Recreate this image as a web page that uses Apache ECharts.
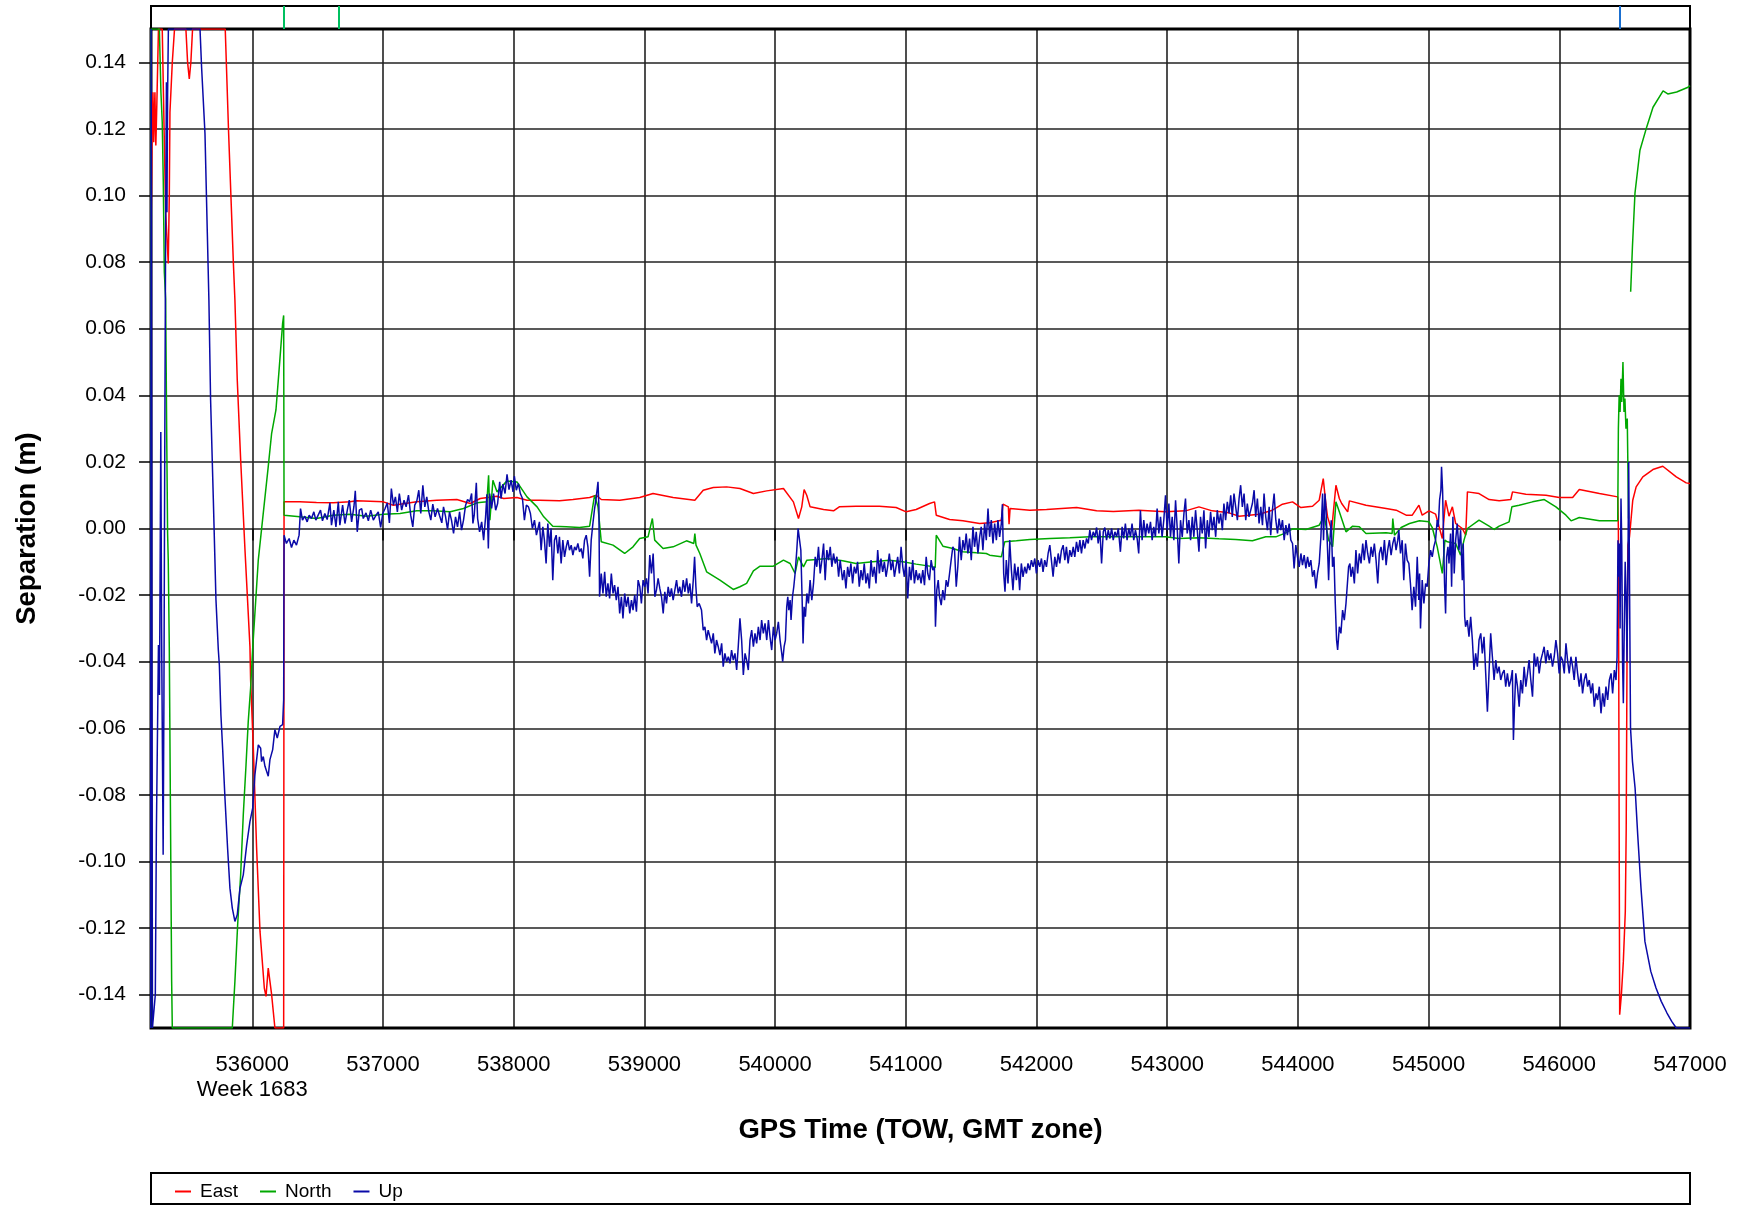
<!DOCTYPE html>
<html><head><meta charset="utf-8">
<script src="https://cdn.jsdelivr.net/npm/echarts@6/dist/echarts.min.js"></script>
<style>html,body{margin:0;padding:0;background:#fff}#c{width:1743px;height:1206px}</style>
</head><body><div id="c"></div>
<script>
const xTicks = [536000,537000,538000,539000,540000,541000,542000,543000,544000,545000,546000,547000];
const yTicks = [-0.14,-0.12,-0.10,-0.08,-0.06,-0.04,-0.02,0,0.02,0.04,0.06,0.08,0.10,0.12,0.14];
const weekLabel = 'Week 1683';
const seriesNames = ['East','North','Up'];
const xTitle = 'GPS Time (TOW, GMT zone)';
const yTitle = 'Separation (m)';
const stripGreen = [536242, 536663];
const stripBlue = [546462];

const eastPoints = [[535226,0.091],[535233,0.118],[535240,0.131],[535246,0.116],[535255,0.131],[535262,0.115],[535270,0.128],[535282,0.15],[535311,0.15],[535337,0.095],[535357,0.0796],[535365,0.10],[535370,0.125],[535388,0.14],[535405,0.15],[535492,0.15],[535505,0.14],[535518,0.135],[535530,0.14],[535543,0.15],[535793,0.15],[535819,0.1186],[535855,0.08],[535867,0.0686],[535885,0.0446],[535911,0.0206],[535944,-0.0064],[535982,-0.0354],[535987,-0.0454],[536008,-0.066],[536033,-0.096],[536059,-0.121],[536092,-0.138],[536105,-0.1405],[536122,-0.132],[536135,-0.136],[536148,-0.14],[536173,-0.15],[536240,-0.15],[536243,0.008],[536363,0.008],[536491,0.0078],[536619,0.0077],[536747,0.008],[536798,0.0083],[537003,0.008],[537079,0.007],[537258,0.008],[537412,0.0085],[537565,0.0087],[537667,0.0075],[537744,0.009],[537872,0.0097],[537923,0.009],[538025,0.0093],[538102,0.0085],[538197,0.0085],[538351,0.0083],[538453,0.0087],[538581,0.0093],[538632,0.01],[538670,0.0087],[538811,0.0085],[538964,0.0093],[539066,0.0105],[539220,0.0093],[539386,0.0085],[539450,0.0115],[539527,0.0123],[539629,0.0125],[539731,0.012],[539834,0.0105],[539936,0.0113],[540064,0.012],[540140,0.008],[540179,0.003],[540204,0.0065],[540222,0.0117],[540242,0.01],[540268,0.0065],[540371,0.0057],[540447,0.0053],[540491,0.0065],[540619,0.0067],[540798,0.0067],[540926,0.0063],[541003,0.005],[541079,0.0057],[541182,0.0075],[541220,0.008],[541233,0.004],[541335,0.0027],[541437,0.0023],[541565,0.0015],[541642,0.0017],[541731,0.0025],[541744,0.0073],[541785,0.0065],[541790,0.0013],[541798,0.006],[541949,0.0055],[542077,0.0057],[542307,0.0063],[542460,0.0053],[542588,0.0051],[542783,0.0055],[542987,0.005],[543141,0.0053],[543243,0.0065],[543345,0.0053],[543473,0.0047],[543550,0.0037],[543703,0.0043],[543805,0.0055],[543882,0.0073],[543959,0.008],[544023,0.0063],[544112,0.0067],[544163,0.0085],[544194,0.015],[544215,0.007],[544227,0.0035],[544258,-0.0005],[544291,0.013],[544317,0.009],[544335,0.0075],[544381,0.005],[544394,0.0083],[544521,0.007],[544675,0.006],[544752,0.0055],[544828,0.004],[544875,0.004],[544926,0.007],[544951,0.004],[545003,0.0053],[545054,0.0043],[545105,-0.003],[545130,0.0085],[545156,0.0037],[545182,0.0065],[545207,0.0015],[545258,0],[545284,-0.002],[545297,0.011],[545386,0.0105],[545463,0.0087],[545540,0.0083],[545629,0.0087],[545642,0.011],[545744,0.0103],[545898,0.01],[546000,0.0093],[546102,0.0093],[546153,0.0117],[546307,0.0105],[546447,0.0095],[546452,0],[546458,-0.09],[546462,-0.146],[546475,-0.14],[546490,-0.13],[546505,-0.115],[546512,-0.09],[546518,-0.04],[546525,-0.005],[546537,-0.0025],[546562,0.0085],[546588,0.0125],[546639,0.0155],[546716,0.0177],[546792,0.0187],[546895,0.0155],[546971,0.0137],[547000,0.0135]];

const northPoints = [[535222,-0.15],[535225,0.15],[535289,0.15],[535301,0.131],[535311,0.122],[535319,0.104],[535327,0.077],[535337,0.069],[535345,0.029],[535352,-0.0014],[535357,-0.0094],[535365,-0.036],[535383,-0.136],[535388,-0.15],[535847,-0.15],[535867,-0.136],[535888,-0.119],[535911,-0.104],[535931,-0.086],[535952,-0.071],[535969,-0.058],[535987,-0.048],[536003,-0.036],[536046,-0.0094],[536084,0.0046],[536122,0.0186],[536148,0.0286],[536181,0.0356],[536207,0.0486],[536232,0.0616],[536240,0.064],[536243,0.004],[536363,0.0035],[536491,0.003],[536619,0.004],[536747,0.0043],[536875,0.0037],[537003,0.0043],[537130,0.0045],[537258,0.0053],[537386,0.0053],[537514,0.005],[537616,0.006],[537719,0.0077],[537795,0.008],[537808,0.016],[537818,0.0025],[537826,0.0025],[537841,0.0145],[537872,0.011],[537949,0.0143],[538025,0.014],[538102,0.0095],[538179,0.0065],[538230,0.0035],[538299,0.0007],[538402,0.0005],[538504,0.0003],[538581,0.0007],[538619,0.01],[538645,0.0065],[538670,-0.004],[538760,-0.005],[538849,-0.0075],[538913,-0.0055],[538964,-0.003],[539028,-0.0025],[539061,0.003],[539079,-0.0035],[539143,-0.006],[539220,-0.0055],[539322,-0.0037],[539378,-0.0045],[539386,-0.0015],[539395,-0.005],[539424,-0.0075],[539476,-0.013],[539578,-0.0155],[539680,-0.0183],[539731,-0.0175],[539782,-0.0165],[539834,-0.0127],[539885,-0.0113],[539987,-0.0113],[540064,-0.0095],[540115,-0.0105],[540153,-0.0135],[540179,-0.0085],[540217,-0.0115],[540243,-0.0095],[540319,-0.0093],[540396,-0.009],[540517,-0.0097],[540619,-0.0105],[540747,-0.01],[540875,-0.0095],[540977,-0.01],[541079,-0.0107],[541182,-0.0113],[541225,-0.0117],[541233,-0.002],[541284,-0.0053],[541361,-0.006],[541437,-0.007],[541540,-0.0073],[541616,-0.0075],[541642,-0.008],[541731,-0.0085],[541757,-0.004],[541846,-0.0037],[541949,-0.0033],[542102,-0.003],[542255,-0.0028],[542409,-0.0025],[542562,-0.0025],[542783,-0.0025],[542987,-0.0025],[543089,-0.003],[543243,-0.0028],[543396,-0.0031],[543524,-0.0033],[543652,-0.0037],[543754,-0.0025],[543831,-0.0025],[543908,-0.0013],[543959,-0.0001],[544061,-0.0003],[544163,0.001],[544202,0.0037],[544235,-0.0035],[544266,-0.0055],[544291,0.008],[544317,0.005],[544368,-0.001],[544419,0.0007],[544470,0.0005],[544521,-0.0015],[544675,-0.0013],[544721,-0.0015],[544726,0.003],[544739,-0.002],[544790,0.0003],[544854,0.0015],[544930,0.0023],[545003,0.002],[545028,0.0003],[545066,-0.0055],[545105,-0.0135],[545125,-0.0035],[545143,-0.004],[545207,-0.0045],[545245,-0.008],[545271,-0.0035],[545297,0],[545386,0.0025],[545463,0.0007],[545501,-0.0003],[545540,0.0007],[545616,0.002],[545637,0.0065],[545693,0.007],[545795,0.008],[545885,0.0087],[545974,0.0065],[546051,0.004],[546090,0.0023],[546153,0.0033],[546307,0.0023],[546447,0.0023],[546452,0.03],[546458,0.04],[546465,0.035],[546472,0.045],[546478,0.038],[546487,0.05],[546495,0.035],[546502,0.039],[546510,0.03],[546520,0.033],[546530,0.003],[546533,null],[546546,0.0711],[546560,0.085],[546579,0.1007],[546617,0.1136],[546669,0.1206],[546717,0.1265],[546794,0.1314],[546830,0.1305],[546898,0.1311],[546985,0.1325],[547000,0.133]];

const upPoints = [[535222,-0.15],[535226,0.15],[535230,0.03],[535236,-0.15],[535250,-0.15],[535258,-0.14],[535266,-0.092],[535275,-0.06],[535282,-0.035],[535290,-0.05],[535300,0.029],[535306,-0.03],[535313,-0.07],[535318,-0.098],[535324,-0.05],[535330,0.02],[535337,0.09],[535343,0.134],[535347,0.095],[535352,0.13],[535358,0.15],[535600,0.15],[535612,0.1386],[535638,0.1186],[535656,0.0886],[535668,0.0686],[535681,0.0386],[535702,0.0086],[535722,-0.0214],[535740,-0.0364],[535748,-0.041],[535760,-0.056],[535773,-0.066],[535791,-0.081],[535811,-0.096],[535829,-0.108],[535847,-0.114],[535867,-0.118],[535885,-0.116],[535906,-0.108],[535931,-0.104],[535957,-0.095],[535982,-0.088],[536003,-0.084],[536020,-0.074],[536046,-0.065],[536064,-0.066],[536071,-0.07],[536084,-0.0685],[536097,-0.0714],[536110,-0.072],[536122,-0.0744],[536135,-0.0694],[536156,-0.0664],[536173,-0.0604],[536191,-0.0629],[536212,-0.0594],[536232,-0.0589],[536240,-0.0514],
[536243,-0.002],[536261,-0.0045],[536282,-0.003],[536300,-0.0057],[536318,-0.0035],[536338,-0.005],[536358,-0.002],[536369,0.006],[536384,0.0025],[536402,0.0037],[536420,0.002],[536435,0.004],[536453,0.003],[536471,0.005],[536486,0.0025],[536504,0.004],[536522,0.0055],[536537,0.0023],[536555,0.0045],[536573,0.0027],[536594,0.0077],[536606,0.001],[536624,0.0055],[536640,0.0005],[536658,0.008],[536670,0.001],[536691,0.007],[536709,0.0015],[536727,0.0055],[536742,0.0085],[536760,0.002],[536778,0.0067],[536788,0.0113],[536803,-0.001],[536819,0.0055],[536837,0.006],[536849,0.003],[536870,0.0047],[536888,0.0023],[536906,0.0055],[536926,0.0025],[536947,0.004],[536964,0.005],[536982,0.0003],[536998,0.0045],[537016,0.006],[537033,0.0077],[537049,0.0017],[537064,0.012],[537080,0.007],[537095,0.0095],[537110,0.005],[537125,0.0105],[537143,0.0055],[537161,0.0085],[537177,0.0065],[537195,0.01],[537212,0.004],[537228,0.0005],[537243,0.007],[537259,0.0083],[537274,0.0115],[537289,0.0045],[537305,0.013],[537320,0.0065],[537335,0.0095],[537351,0.005],[537366,0.0025],[537381,0.0073],[537399,0.0035],[537417,0.006],[537432,0.004],[537450,0.0017],[537463,0.0065],[537478,0.0037],[537494,-0.0003],[537509,0.005],[537524,0.0025],[537540,-0.0015],[537555,0.0035],[537570,0.0005],[537586,0.005],[537601,-0.0005],[537616,0.0025],[537632,0.007],[537647,0.0087],[537663,0.008],[537678,0.0105],[537688,0.0015],[537698,0.004],[537714,0.0137],[537724,0.003],[537739,-0.001],[537755,0.002],[537770,-0.0035],[537785,0.0035],[537795,0.0103],[537806,-0.006],[537816,0.0105],[537831,0.006],[537846,0.0105],[537862,0.0055],[537877,0.0075],[537893,0.014],[537903,0.009],[537918,0.0133],[537934,0.0105],[537949,0.0163],[537964,0.0117],[537980,0.0145],[537995,0.011],[538005,0.0157],[538020,0.0115],[538036,0.0135],[538051,0.0105],[538067,0.009],[538082,0.0025],[538097,0.007],[538113,0.0065],[538128,0.0045],[538143,0],[538159,0.0025],[538174,-0.002],
[538197,0.002],[538210,-0.0065],[538223,0.0005],[538235,-0.0035],[538248,-0.0105],[538261,0.0015],[538274,-0.0055],[538286,0],[538299,-0.0155],[538312,-0.0035],[538325,-0.002],[538338,-0.0075],[538350,-0.0025],[538363,-0.0105],[538376,-0.0035],[538389,-0.0085],[538402,-0.0055],[538414,-0.0035],[538427,-0.0065],[538440,-0.005],[538453,-0.008],[538466,-0.0055],[538478,-0.0065],[538491,-0.0045],[538504,-0.007],[538517,-0.006],[538529,-0.009],[538542,-0.0035],[538555,-0.002],[538568,-0.0055],[538581,-0.0145],[538593,-0.0035],[538606,0.0015],[538619,0.006],[538632,0.0095],[538645,0.014],[538652,0.0065],[538657,-0.0205],[538670,-0.0135],[538683,-0.0195],[538696,-0.013],[538708,-0.0205],[538721,-0.0165],[538734,-0.021],[538747,-0.0135],[538760,-0.0195],[538772,-0.017],[538785,-0.0215],[538798,-0.0175],[538811,-0.0255],[538824,-0.0205],[538836,-0.027],[538849,-0.0195],[538862,-0.0235],[538875,-0.0205],[538888,-0.0255],[538901,-0.0215],[538913,-0.0245],[538926,-0.02],[538939,-0.025],[538952,-0.0155],[538965,-0.0175],[538977,-0.0225],[538990,-0.0155],[539003,-0.0175],[539016,-0.015],[539028,-0.0195],[539041,-0.008],[539054,-0.0135],[539067,-0.0075],[539080,-0.0205],[539092,-0.0185],[539105,-0.015],[539118,-0.018],[539131,-0.0205],[539144,-0.0255],[539156,-0.019],[539169,-0.0225],[539182,-0.0175],[539195,-0.0205],[539207,-0.018],[539220,-0.0215],[539233,-0.0185],[539246,-0.0155],[539259,-0.0195],[539271,-0.0175],[539284,-0.0205],[539297,-0.0155],[539310,-0.019],[539323,-0.015],[539336,-0.0195],[539348,-0.0165],[539361,-0.0225],[539374,-0.0155],[539384,-0.0085],[539394,-0.0175],[539404,-0.0235],[539419,-0.0225],[539437,-0.0245],[539450,-0.0305],[539463,-0.0295],[539476,-0.0335],[539488,-0.0305],[539501,-0.0325],[539514,-0.0345],[539527,-0.0315],[539539,-0.0375],[539552,-0.0335],[539565,-0.0355],[539578,-0.038],[539591,-0.0345],[539603,-0.0415],[539616,-0.0375],[539629,-0.04],[539642,-0.0385],[539655,-0.0405],[539667,-0.0365],[539680,-0.0395],[539693,-0.0375],[539706,-0.0425],[539718,-0.0355],[539731,-0.027],[539744,-0.0335],[539757,-0.044],[539770,-0.0375],[539782,-0.0395],[539795,-0.0425],[539808,-0.0335],[539821,-0.0305],[539834,-0.0355],[539846,-0.0315],[539859,-0.0345],[539872,-0.0295],[539885,-0.0335],[539897,-0.0275],[539910,-0.0315],[539923,-0.0285],[539936,-0.0335],[539949,-0.0275],[539961,-0.0325],[539974,-0.0365],[539987,-0.0295],[540000,-0.0335],[540012,-0.0315],[540025,-0.028],[540038,-0.0335],[540051,-0.0375],[540058,-0.04],[540069,-0.0355],[540079,-0.0335],[540089,-0.0235],[540097,-0.0205],[540105,-0.0245],[540115,-0.0215],[540122,-0.0275],[540133,-0.0205],[540143,-0.0175],[540153,-0.0135],[540166,-0.0065],[540176,0],[540186,-0.0005],[540197,-0.0065],[540207,-0.0215],[540214,-0.0345],[540222,-0.0235],[540232,-0.0265],[540243,-0.0195],[540255,-0.0225],[540268,-0.0155],[540281,-0.0215],[540294,-0.0165],[540307,-0.0085],[540319,-0.0115],[540332,-0.0055],[540345,-0.0135],[540358,-0.0095],[540371,-0.0045],[540383,-0.0155],[540396,-0.0065],[540409,-0.0095],[540422,-0.0055],[540434,-0.0115],[540447,-0.0075],[540460,-0.0105],[540473,-0.0085],[540486,-0.0145],[540498,-0.0095],
[540516,-0.0155],[540529,-0.0125],[540542,-0.018],[540555,-0.0115],[540567,-0.0145],[540580,-0.0105],[540593,-0.0165],[540606,-0.0115],[540619,-0.0135],[540631,-0.01],[540644,-0.0175],[540657,-0.0125],[540670,-0.0155],[540682,-0.0105],[540695,-0.0165],[540708,-0.0135],[540721,-0.018],[540734,-0.0095],[540746,-0.0145],[540759,-0.0115],[540772,-0.0165],[540785,-0.0065],[540798,-0.0135],[540810,-0.009],[540823,-0.013],[540836,-0.01],[540849,-0.0145],[540861,-0.0115],[540874,-0.0075],[540887,-0.0125],[540900,-0.0095],[540913,-0.0145],[540925,-0.0115],[540938,-0.0085],[540951,-0.0135],[540964,-0.0055],[540977,-0.0115],[540989,-0.0145],[541002,-0.0095],[541015,-0.021],[541028,-0.0115],[541040,-0.0155],[541053,-0.0095],[541066,-0.0165],[541079,-0.0125],[541092,-0.0155],[541104,-0.0135],[541117,-0.0165],[541130,-0.0125],[541143,-0.017],[541156,-0.0085],[541168,-0.0135],[541181,-0.0155],[541194,-0.0095],[541207,-0.0125],[541219,-0.0115],[541227,-0.0295],[541237,-0.0185],[541248,-0.0155],[541258,-0.0205],[541271,-0.023],[541283,-0.0185],[541296,-0.0215],[541309,-0.0155],[541322,-0.0175],[541335,-0.0135],[541347,-0.0095],[541360,-0.0055],[541373,-0.0065],[541386,-0.0175],[541398,-0.0115],[541411,-0.0025],[541424,-0.0095],[541437,-0.0035],[541450,-0.0065],[541462,-0.0015],[541475,-0.0075],[541488,-0.003],[541501,-0.0095],[541514,0.0005],[541526,-0.0055],[541539,-0.001],[541552,-0.0075],[541565,-0.0025],[541577,0.0005],[541590,-0.0065],[541603,0.0015],[541616,-0.0035],[541629,0.006],[541641,-0.0025],[541654,0.0025],[541667,-0.0045],[541680,0.0015],[541693,-0.0035],[541705,0.0025],[541718,-0.0025],[541731,0.0015],[541739,0.0073],[541749,-0.0135],[541759,-0.019],[541769,-0.0095],[541782,-0.0165],[541795,-0.0035],[541808,-0.0125],[541820,-0.0185],[541833,-0.0105],[541846,-0.0155],[541859,-0.0115],[541871,-0.0185],[541884,-0.0105],[541897,-0.0145],[541910,-0.0115],[541923,-0.0135],[541935,-0.0105],[541948,-0.0125],[541961,-0.0095],[541974,-0.0115],[541987,-0.009],[541999,-0.0135],[542012,-0.0095],[542025,-0.0115],[542038,-0.009],[542050,-0.013],[542063,-0.0095],[542076,-0.0115],[542089,-0.0075],[542102,-0.005],[542114,-0.0095],[542127,-0.0145],[542140,-0.0085],[542153,-0.0115],[542166,-0.0075],[542178,-0.0105],[542191,-0.0065],[542204,-0.005],[542217,-0.0095],[542229,-0.0055],[542242,-0.0105],[542255,-0.0065],[542268,-0.0085],[542281,-0.0055],[542293,-0.0085],[542306,-0.004],[542319,-0.007],[542332,-0.0035],[542344,-0.0075],[542357,-0.0035],[542370,-0.006],[542383,-0.003],[542396,-0.0045],[542408,-0.0005],[542421,-0.0035],[542434,-0.001],[542447,-0.0025],[542460,0.0003],[542472,-0.0045],[542485,-0.0005],[542498,-0.0105],[542511,-0.001],[542523,0.0003],[542536,-0.0035],[542549,-0.0005],[542562,-0.003],[542575,0],[542587,-0.0035],[542600,-0.001],[542613,-0.0025],[542626,0],
[542642,-0.007],[542655,0.0005],[542667,-0.003],[542680,0.0015],[542693,-0.0035],[542706,0],[542719,-0.0025],[542731,0.0015],[542744,-0.0035],[542757,-0.0005],[542770,-0.003],[542782,-0.0075],[542795,0.0055],[542808,-0.0035],[542821,0.0025],[542834,-0.0025],[542846,0.0015],[542859,-0.0015],[542872,0.002],[542885,-0.0035],[542897,0.0005],[542910,-0.0025],[542923,0.006],[542936,-0.0015],[542949,0.0035],[542961,-0.0025],[542974,0.0025],[542987,0.01],[543000,-0.0005],[543013,0.0075],[543025,-0.0025],[543038,0.0035],[543051,-0.0035],[543064,0.0085],[543076,0.0005],[543089,-0.0105],[543102,0.0025],[543115,-0.0025],[543128,0.0045],[543140,0.009],[543153,-0.0015],[543166,0.0025],[543179,-0.0035],[543192,0.0035],[543204,-0.0025],[543217,0.0055],[543230,-0.0005],[543243,-0.007],[543255,0.0035],[543268,-0.0015],[543281,0.0055],[543294,-0.006],[543307,0.0025],[543319,-0.0025],[543332,0.005],[543345,-0.0005],[543358,0.0035],[543371,-0.0025],[543383,0.0055],[543396,0.0015],[543409,0.0045],[543422,-0.0005],[543434,0.0075],[543447,0.0025],[543460,0.008],[543473,0.0045],[543486,0.01],[543498,0.0035],[543511,0.0105],[543524,0.0065],[543537,0.0025],[543550,0.009],[543562,0.013],[543575,0.0065],[543588,0.0105],[543601,0.0025],[543613,0.0075],[543626,0.0035],[543639,0.0055],[543652,0.0075],[543665,0.0115],[543677,0.0035],[543690,0.009],[543703,0.0015],[543716,0.0065],[543729,0.001],[543741,0.0105],[543754,0.0035],[543767,-0.0005],[543780,0.0065],[543792,-0.002],[543805,0.0055],[543818,0.0105],[543831,0.0025],[543844,-0.0015],[543856,0.003],[543869,-0.0005],[543882,0.0025],[543895,-0.0035],[543908,0.001],[543920,-0.002],[543933,0.0015],[543946,-0.0035],[543959,-0.0045],[543971,-0.012],[543984,-0.005],[543997,-0.0085],[544010,-0.0115],[544023,-0.0075],[544035,-0.011],[544048,-0.008],[544061,-0.012],[544074,-0.0085],[544086,-0.0115],[544099,-0.0095],[544112,-0.0145],[544125,-0.0125],[544138,-0.018],[544150,-0.0135],[544163,-0.0105],[544176,-0.0025],[544189,0.0105],[544196,-0.0035],[544207,0.0105],[544214,0.0065],[544227,-0.0065],[544235,-0.0155],[544245,-0.0035],[544255,0.0025],[544265,-0.0115],[544276,-0.0085],[544286,-0.0225],[544296,-0.0335],[544304,-0.0365],[544317,-0.0295],[544329,-0.0315],[544342,-0.0245],[544355,-0.0275],[544368,-0.0225],[544381,-0.023],[544388,-0.0115],[544398,-0.0105],[544406,-0.0145],[544419,-0.0115],[544432,-0.0165],[544444,-0.0065],[544457,-0.0135],[544470,-0.0075],[544483,-0.0105],[544496,-0.0045],[544508,-0.0095],[544521,-0.0035],[544534,-0.0075],[544547,-0.0105],[544560,-0.0055],[544572,-0.0085],[544585,-0.0045],[544598,-0.0095],[544611,-0.0165],[544623,-0.0075],[544636,-0.0055],[544649,-0.0095],[544662,-0.0035],[544675,-0.011],[544687,-0.0065],[544700,-0.0035],[544713,-0.008],[544726,-0.0045],[544739,-0.0025],[544751,-0.0065],[544764,-0.0035],
[544772,-0.0005],[544785,-0.0075],[544798,-0.0035],[544810,-0.0155],[544823,-0.0045],[544836,-0.0095],[544849,-0.0105],[544861,-0.0165],[544874,-0.0245],[544887,-0.0175],[544900,-0.0235],[544913,-0.0085],[544925,-0.0215],[544931,-0.0135],[544938,-0.03],[544951,-0.0155],[544964,-0.0225],[544977,-0.0165],[544989,-0.0175],[545002,-0.0105],[545015,-0.0065],[545028,-0.0085],[545040,-0.0055],[545053,-0.0035],[545066,0.0025],[545074,0.0005],[545084,0.0085],[545094,0.0115],[545099,0.0185],[545107,0.0115],[545115,-0.0035],[545122,-0.0165],[545130,-0.0255],[545138,-0.0085],[545148,-0.0055],[545156,-0.0105],[545168,-0.0015],[545176,-0.0175],[545186,0.0035],[545196,-0.0135],[545207,-0.0035],[545219,0.0015],[545232,-0.0065],[545245,-0.0005],[545258,-0.0155],[545265,-0.0045],[545276,-0.0265],[545283,-0.0295],[545296,-0.0275],[545309,-0.0325],[545322,-0.0265],[545335,-0.0335],[545347,-0.0425],[545360,-0.0375],[545373,-0.0415],[545386,-0.0335],[545399,-0.0315],[545411,-0.0375],[545424,-0.0325],[545437,-0.0435],[545450,-0.055],[545462,-0.0435],[545475,-0.0315],[545488,-0.0385],[545501,-0.0455],[545514,-0.0395],[545526,-0.0435],[545539,-0.0415],[545552,-0.0455],[545565,-0.0435],[545578,-0.0425],[545590,-0.0475],[545603,-0.0435],[545616,-0.0475],[545629,-0.0455],[545641,-0.0425],[545649,-0.0635],[545659,-0.0515],[545667,-0.0435],[545680,-0.0475],[545693,-0.0535],[545705,-0.0455],[545718,-0.0495],[545731,-0.0415],[545744,-0.0475],[545757,-0.0435],[545769,-0.0395],[545782,-0.0455],[545795,-0.0505],[545808,-0.0375],[545821,-0.0415],[545833,-0.0385],[545846,-0.0435],[545859,-0.0395],[545872,-0.0375],[545884,-0.0355],[545897,-0.0405],[545910,-0.0365],[545923,-0.0395],[545935,-0.0375],[545948,-0.0415],[545961,-0.0385],[545974,-0.0335],[545987,-0.0375],[545999,-0.0435],[546012,-0.0385],[546025,-0.0395],[546038,-0.0435],[546051,-0.0345],[546063,-0.0395],[546076,-0.0435],[546089,-0.0385],[546102,-0.0415],[546114,-0.0455],[546127,-0.0385],[546140,-0.0435],[546153,-0.0475],[546166,-0.0435],[546178,-0.0495],[546191,-0.0455],[546204,-0.0435],[546217,-0.0475],[546229,-0.0455],[546242,-0.0495],[546255,-0.0465],[546268,-0.0535],[546281,-0.0495],[546293,-0.0515],[546306,-0.0475],[546319,-0.0555],[546332,-0.0495],[546345,-0.0535],[546357,-0.0475],[546370,-0.0515],[546383,-0.0455],[546396,-0.0435],[546408,-0.0495],[546421,-0.0425],[546434,-0.0455],
[546442,-0.0385],[546449,-0.0035],[546454,-0.0145],[546460,-0.0045],[546465,-0.03],[546472,0.009],[546478,-0.005],[546484,-0.04],[546490,-0.0525],[546497,-0.03],[546504,-0.01],[546511,-0.0195],[546518,-0.04],[546526,-0.0065],[546531,0.02],[546538,-0.02],[546545,-0.06],[546560,-0.07],[546580,-0.078],[546600,-0.092],[546625,-0.108],[546655,-0.124],[546700,-0.133],[546740,-0.138],[546780,-0.142],[546824,-0.1455],[546860,-0.148],[546895,-0.15],[547000,-0.15]];

const FONT = '"Liberation Sans", Arial, Helvetica, sans-serif';
const toSeriesData = pts => pts.map(p => [p[0], p[1] === null ? '-' : p[1]]);

const chart = echarts.init(document.getElementById('c'), null, {renderer: 'canvas'});
const gridLine = {show: true, lineStyle: {color: '#222', width: 1.6}};
const option = {
  animation: false,
  backgroundColor: '#ffffff',
  grid: [
    {left: 151, top: 29, width: 1539, height: 999, show: true, borderColor: '#000', borderWidth: 3, backgroundColor: 'rgba(0,0,0,0)', z: 3},
    {left: 151, top: 6, width: 1539, height: 23, show: true, borderColor: '#000', borderWidth: 2},
    {left: 151, top: 1173, width: 1539, height: 31, show: true, borderColor: '#000', borderWidth: 2}
  ],
  xAxis: [
    {gridIndex: 0, type: 'value', min: 535225, max: 547000,
      axisLine: {show: false},
      axisTick: {show: true, inside: false, length: 12, customValues: xTicks, lineStyle: {color: '#000', width: 1.5}},
      axisLabel: {customValues: xTicks, margin: 24, fontSize: 22, color: '#000', fontFamily: FONT, lineHeight: 25,
        formatter: v => (v === xTicks[0] ? v + '\n' + weekLabel : String(v))},
      splitLine: gridLine,
      name: xTitle, nameLocation: 'middle', nameGap: 88,
      nameTextStyle: {fontSize: 27.5, fontWeight: 'bold', fontFamily: FONT, color: '#000'}},
    {gridIndex: 1, type: 'value', min: 535225, max: 547000, show: false},
    {gridIndex: 2, type: 'value', min: 0, max: 1, show: false}
  ],
  yAxis: [
    {gridIndex: 0, type: 'value', min: -0.15, max: 0.15,
      axisLine: {show: false},
      axisTick: {show: true, length: 12, customValues: yTicks, lineStyle: {color: '#000', width: 1.5}},
      axisLabel: {customValues: yTicks, margin: 25, fontSize: 21, color: '#000', fontFamily: FONT,
        formatter: v => v.toFixed(2)},
      splitLine: gridLine,
      name: yTitle, nameLocation: 'middle', nameGap: 110, nameRotate: 90,
      nameTextStyle: {fontSize: 27.5, fontWeight: 'bold', fontFamily: FONT, color: '#000'}},
    {gridIndex: 1, type: 'value', min: 0, max: 1, show: false},
    {gridIndex: 2, type: 'value', min: 0, max: 1, show: false}
  ],
  legend: {
    data: seriesNames, left: 170, top: 1177, icon: 'rect', itemWidth: 16, itemHeight: 2, itemGap: 22,
    textStyle: {fontSize: 19, fontFamily: FONT, color: '#000', padding: [0, 0, 0, 4]}
  },
  series: [
    {name: seriesNames[0], type: 'line', xAxisIndex: 0, yAxisIndex: 0, data: toSeriesData(eastPoints),
      showSymbol: false, symbol: 'none', connectNulls: false, clip: true,
      lineStyle: {color: '#ff0000', width: 1.5}, itemStyle: {color: '#ff0000'}},
    {name: seriesNames[1], type: 'line', xAxisIndex: 0, yAxisIndex: 0, data: toSeriesData(northPoints),
      showSymbol: false, symbol: 'none', connectNulls: false, clip: true,
      lineStyle: {color: '#00a800', width: 1.5}, itemStyle: {color: '#00a800'}},
    {name: seriesNames[2], type: 'line', xAxisIndex: 0, yAxisIndex: 0, data: toSeriesData(upPoints),
      showSymbol: false, symbol: 'none', connectNulls: false, clip: true,
      lineStyle: {color: '#0a0aa8', width: 1.5}, itemStyle: {color: '#0a0aa8'}},
    {name: 'markers-green', type: 'line', xAxisIndex: 1, yAxisIndex: 1, data: [],
      markLine: {symbol: 'none', silent: true, animation: false, label: {show: false},
        lineStyle: {color: '#00c060', width: 2, type: 'solid'},
        data: stripGreen.map(v => ({xAxis: v}))}},
    {name: 'markers-blue', type: 'line', xAxisIndex: 1, yAxisIndex: 1, data: [],
      markLine: {symbol: 'none', silent: true, animation: false, label: {show: false},
        lineStyle: {color: '#1a6fd0', width: 2, type: 'solid'},
        data: stripBlue.map(v => ({xAxis: v}))}}
  ]
};
chart.setOption(option);
</script>
</body></html>
